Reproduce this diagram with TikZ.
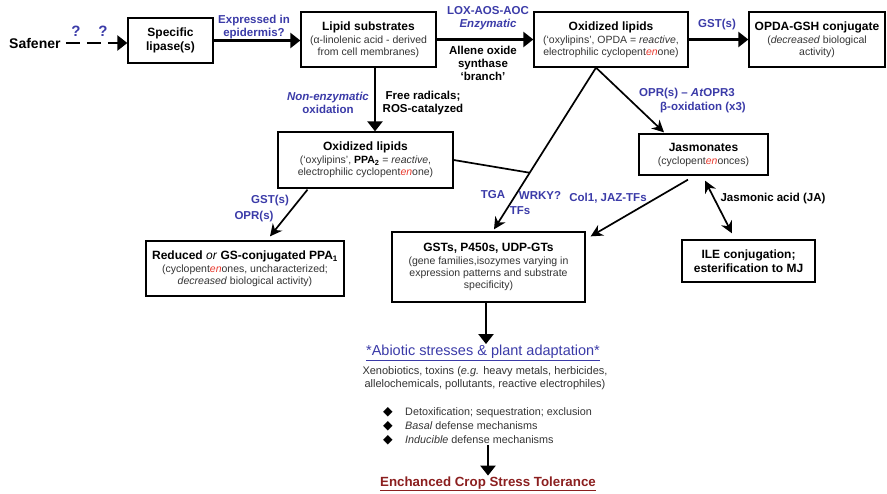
\documentclass[tikz,border=0pt]{standalone}
\usepackage{fontspec}
\setmainfont{Liberation Sans}
\newfontfamily\symfont{DejaVu Sans}
\usetikzlibrary{arrows.meta,calc}

\definecolor{lblblue}{HTML}{3B3BA8}
\definecolor{enred}{HTML}{E8392E}
\definecolor{cropred}{HTML}{8B1F1F}
\definecolor{subgray}{HTML}{333333}

\newcommand{\boxtitle}[1]{{\color{black}\fontsize{12}{14}\selectfont\bfseries #1}}
\newcommand{\redEn}{\textcolor{enred}{\itshape en}}
\newcommand{\bul}{\makebox[22pt][l]{\color{black}\symfont\fontsize{12.5}{12}\selectfont ◆}}

\tikzset{
  box/.style={draw, line width=1.3pt, align=center, inner sep=2pt, text=subgray,
    font=\fontsize{10.5}{12}\selectfont},
  lbl/.style={text=lblblue, font=\fontsize{11.5}{13}\selectfont\bfseries, align=center, inner sep=1pt},
  note/.style={font=\fontsize{11.5}{13}\selectfont\bfseries, align=center, inner sep=1pt},
  arr/.style={line width=2.4pt, -{Triangle[length=10pt,width=15pt]}},
  diag/.style={line width=1.7pt, -{Stealth[length=12pt,width=12pt]}},
  plain/.style={line width=1.7pt}
}

\begin{document}
\begin{tikzpicture}[x=1pt, y=-1pt]
\useasboundingbox (0,0) rectangle (887,494);

% top row
\node[note, font=\fontsize{14}{16}\selectfont\bfseries, anchor=west] (safener) at (8,43) {Safener};
\node[lbl, font=\fontsize{15}{17}\selectfont\bfseries] (q1) at (76,31) {?};
\node[lbl, font=\fontsize{15}{17}\selectfont\bfseries] (q2) at (103,31) {?};
\node[box, text=black, font=\fontsize{12}{14}\selectfont\bfseries, minimum width=85, minimum height=45] (lipase) at (170.5,40.5) {Specific\\lipase(s)};
\node[box, minimum width=135, minimum height=55] (lipid) at (368.5,39.5)
  {\boxtitle{Lipid substrates}\\[1pt](α-linolenic acid - derived\\from cell membranes)};
\node[box, minimum width=154, minimum height=55] (oxtop) at (611,39.5)
  {\boxtitle{Oxidized lipids}\\[1pt](‘oxylipins’, OPDA = \textit{reactive},\\electrophilic cyclopent\redEn{}one)};
\node[box, minimum width=136, minimum height=55] (opda) at (817,39.5)
  {\boxtitle{OPDA-GSH conjugate}\\[1pt](\textit{decreased} biological\\activity)};

% middle row
\node[box, minimum width=175, minimum height=56] (ppa) at (365.5,160)
  {\boxtitle{Oxidized lipids}\\[1pt](‘oxylipins’, \textbf{\color{black}PPA\textsubscript{2}} = \textit{reactive},\\electrophilic cyclopent\redEn{}one)};
\node[box, minimum width=129, minimum height=41] (jas) at (703.5,154.5)
  {\boxtitle{Jasmonates}\\[1pt](cyclopent\redEn{}onces)};

% lower row
\node[box, minimum width=198, minimum height=55] (reduced) at (245,268.5)
  {\boxtitle{Reduced \textit{\mdseries or} GS-conjugated PPA\textsubscript{1}}\\[1pt](cyclopent\redEn{}ones, uncharacterized;\\\textit{decreased} biological activity)};
\node[box, minimum width=193, minimum height=70] (gsts) at (488.5,267)
  {\boxtitle{GSTs, P450s, UDP-GTs}\\[1pt](gene families,isozymes varying in\\expression patterns and substrate\\specificity)};
\node[box, text=black, font=\fontsize{12}{14}\selectfont\bfseries, minimum width=133, minimum height=42] (ile) at (748.5,261)
  {ILE conjugation;\\esterification to MJ};

% labels
\node[lbl] (epid) at (254,27) {Expressed in\\epidermis?};
\node[lbl] (lox) at (488,18) {LOX-AOS-AOC\\\textit{Enzymatic}};
\node[note] (aos) at (483,63) {Allene oxide\\synthase\\‘branch’};
\node[lbl] (gstop) at (717,25) {GST(s)};
\node[lbl] (nonenz) at (328,103) {\textit{Non-enzymatic}\\oxidation};
\node[note] (free) at (423,103) {Free radicals;\\ROS-catalyzed};
\node[lbl] (gstlow) at (270,201) {GST(s)};
\node[lbl] (oprlow) at (254,217) {OPR(s)};
\node[lbl] (tga) at (493,195) {TGA};
\node[lbl] (wrky) at (540,195) {WRKY?};
\node[lbl] (tfs) at (520,211) {TFs};
\node[lbl] (opr1) at (687,94) {OPR(s) – \textit{At}OPR3};
\node[lbl] (opr2) at (703,108) {β-oxidation (x3)};
\node[lbl] (coi) at (608,198) {Col1, JAZ-TFs};
\node[note] (ja) at (773,199) {Jasmonic acid (JA)};

% bottom texts
\node[text=lblblue, font=\fontsize{14.5}{16}\selectfont, inner sep=1pt] (abiotic) at (483,353)
  {\underline{*Abiotic stresses \& plant adaptation*}};
\node[align=center, text=subgray, font=\fontsize{11}{12.5}\selectfont, inner sep=0pt] (xeno) at (485,378)
  {Xenobiotics, toxins (\textit{e.g.} heavy metals, herbicides,\\allelochemicals, pollutants, reactive electrophiles)};
\node[align=left, anchor=west, text=subgray, font=\fontsize{10.8}{14}\selectfont, inner sep=0pt] (defense) at (383,426)
  {\bul Detoxification; sequestration; exclusion\\\bul \textit{Basal} defense mechanisms\\\bul \textit{Inducible} defense mechanisms};
\node[text=cropred, font=\fontsize{13.3}{15}\selectfont\bfseries, inner sep=1pt] (crop) at (488,484)
  {\underline{Enchanced Crop Stress Tolerance}};

% connectors
\draw[arr, dash pattern=on 14pt off 7pt] ([xshift=4pt]safener.east) -- (safener.east -| lipase.west);
\draw[arr] (lipase.east) -- (lipase.east -| lipid.west);
\draw[arr] (lipid.east) -- (lipid.east -| oxtop.west);
\draw[arr] (oxtop.east) -- (oxtop.east -| opda.west);
\draw[arr] ([xshift=6.5pt]lipid.south) -- ([xshift=6.5pt]lipid.south |- ppa.north);
\coordinate (split) at ([xshift=-15pt]oxtop.south);
\coordinate (gin) at ([xshift=5.5pt,yshift=2pt]gsts.north);
\coordinate (join) at ($(split)!0.65!(gin)$);
\draw[diag] (split) -- (gin);
\draw[diag] (split) -- ([xshift=-39.5pt,yshift=1pt]jas.north);
\draw[plain] (ppa.east) -- (join);
\draw[diag] ([xshift=-15.5pt,yshift=-4pt]jas.south) -- ([xshift=5pt,yshift=-5pt]gsts.north east);
\draw[diag, {Stealth[length=12pt,width=12pt]}-{Stealth[length=12pt,width=12pt]}] ([xshift=1.5pt,yshift=-5pt]jas.south) -- ([xshift=-16.5pt,yshift=6pt]ile.north);
\draw[diag] ([xshift=-58pt,yshift=-1pt]ppa.south) -- ([xshift=25pt,yshift=4pt]reduced.north);
\draw[arr] ([xshift=-2.5pt]gsts.south) -- ([xshift=-2.5pt]gsts.south |- abiotic.north);
\draw[arr] (defense.south -| crop) -- (crop.north);
\end{tikzpicture}
\end{document}
